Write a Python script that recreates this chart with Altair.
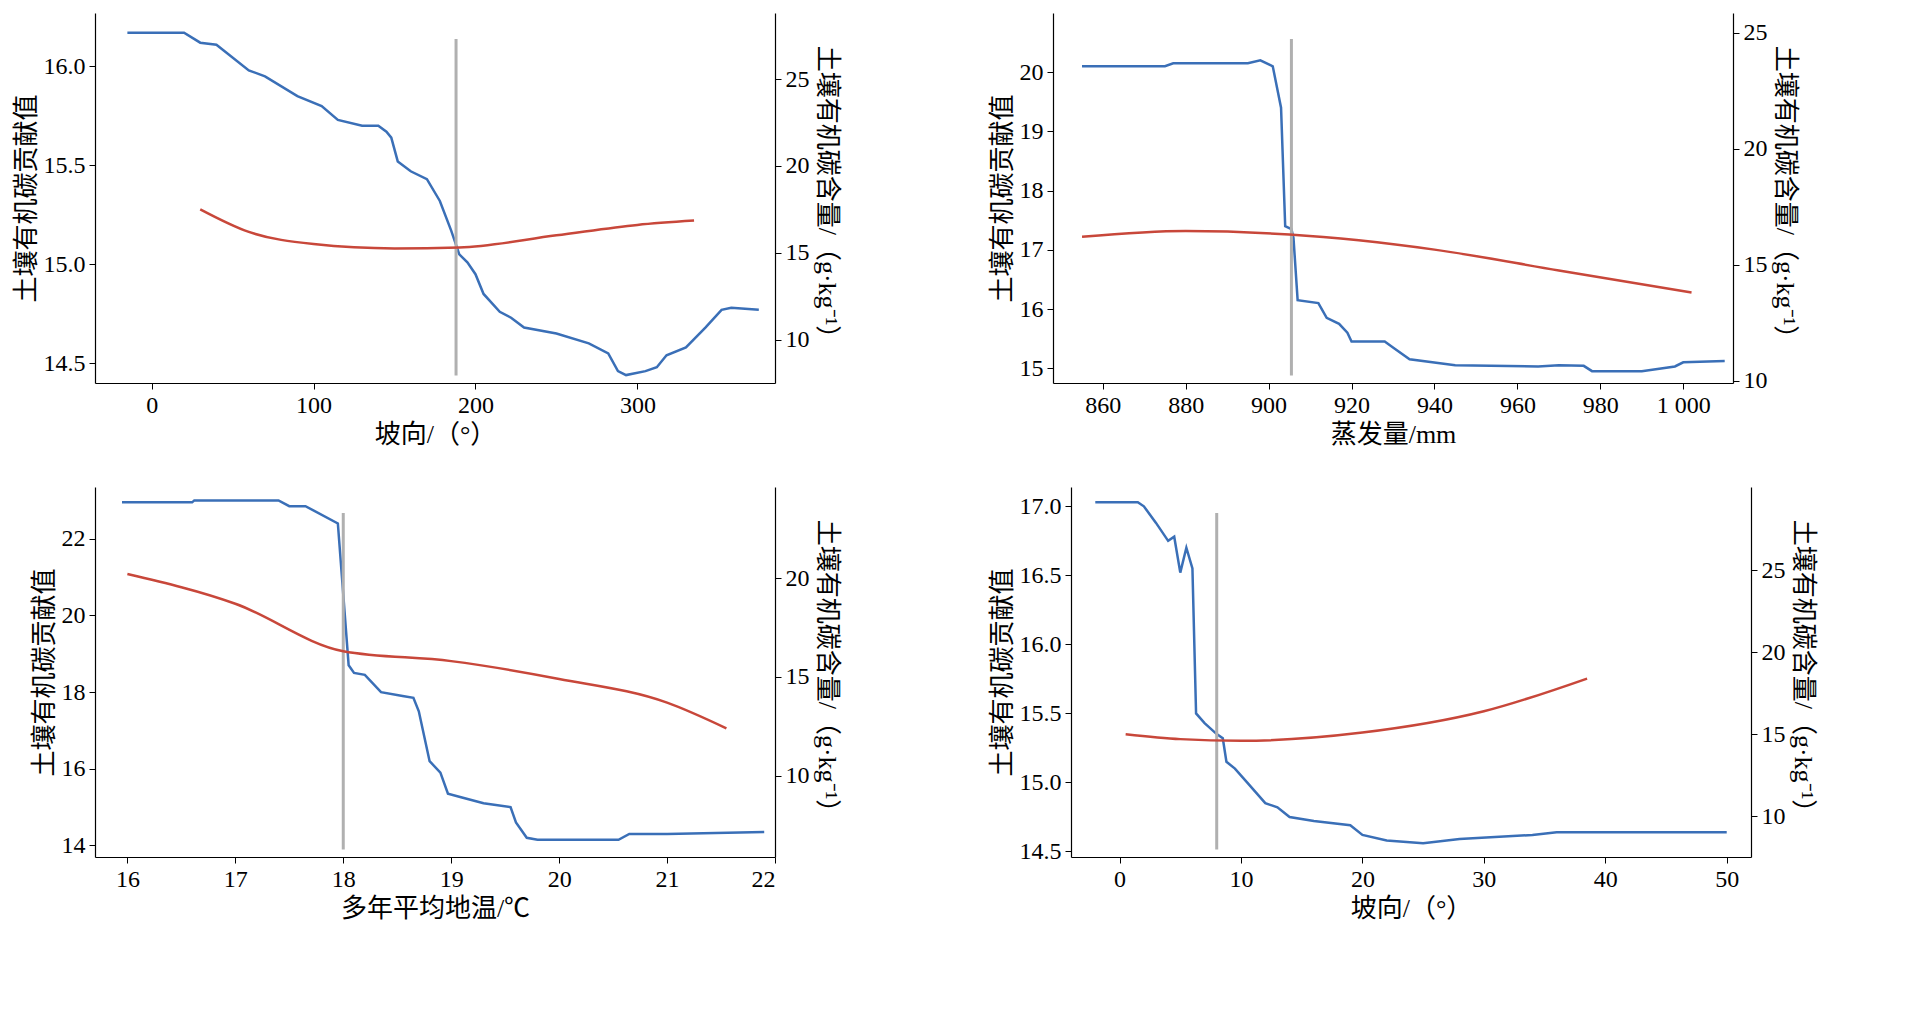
import altair as alt
import pandas as pd

FONT = "Liberation Serif, Noto Sans CJK SC"
BLUE = "#3a6fb7"
RED = "#c8473a"
GRAY = "#b0b0b0"
LEFT_TITLE = "土壤有机碳贡献值"
RIGHT_TITLE = "土壤有机碳含量/（g·kg⁻¹）"

# panel 1: aspect
p1_bx = [-15, 20, 30, 40, 60, 70, 90, 105, 115, 130, 140, 145, 148, 152, 160, 170, 178, 185, 190, 195, 200, 205, 215, 222, 230, 250, 270, 282, 288, 293, 305, 312, 318, 330, 342, 352, 358, 375]
p1_by = [16.17, 16.17, 16.12, 16.11, 15.98, 15.95, 15.85, 15.80, 15.73, 15.70, 15.70, 15.67, 15.64, 15.52, 15.47, 15.43, 15.32, 15.17, 15.05, 15.01, 14.95, 14.85, 14.76, 14.73, 14.68, 14.65, 14.60, 14.55, 14.46, 14.44, 14.46, 14.48, 14.54, 14.58, 14.68, 14.77, 14.78, 14.77]
p1_rx = [30, 60, 100, 150, 190, 250, 300, 335]
p1_ry = [17.5, 16.2, 15.5, 15.25, 15.3, 16.0, 16.6, 16.85]

# panel 2: evaporation
p2_bx = [855, 875, 877, 895, 898, 901, 903, 904, 905.5, 906, 907, 912, 914, 917, 919, 920, 928, 930, 934, 945, 965, 970, 976, 978, 990, 998, 1000, 1010]
p2_by = [20.1, 20.1, 20.15, 20.15, 20.2, 20.1, 19.4, 17.4, 17.35, 17.2, 16.15, 16.1, 15.85, 15.75, 15.6, 15.45, 15.45, 15.35, 15.15, 15.05, 15.03, 15.05, 15.04, 14.95, 14.95, 15.03, 15.1, 15.12]
p2_rx = [855, 880, 905, 940, 970, 1002]
p2_ry = [16.2, 16.45, 16.3, 15.65, 14.75, 13.8]

# panel 3: mean annual ground temperature
p3_bx = [15.95, 16.6, 16.62, 17.4, 17.5, 17.65, 17.95, 18.05, 18.1, 18.2, 18.35, 18.55, 18.65, 18.7, 18.8, 18.9, 18.97, 19.1, 19.3, 19.55, 19.6, 19.7, 19.8, 20.55, 20.65, 21.0, 21.9]
p3_by = [22.95, 22.95, 23.0, 23.0, 22.85, 22.85, 22.4, 18.7, 18.5, 18.45, 18.0, 17.9, 17.85, 17.5, 16.2, 15.9, 15.35, 15.25, 15.1, 15.0, 14.6, 14.2, 14.15, 14.15, 14.3, 14.3, 14.35]
p3_rx = [16, 17, 18, 19, 20, 21, 21.55]
p3_ry = [20.2, 18.7, 16.3, 15.8, 14.9, 13.7, 12.4]

# panel 4: slope
p4_bx = [-2, 1.5, 2, 3, 4, 4.5, 5, 5.5, 6, 6.3, 7, 8, 8.5, 8.8, 9.5, 10.5, 12, 13, 14, 16, 19, 20, 22, 25, 28, 34, 36, 50]
p4_by = [17.03, 17.03, 17.0, 16.88, 16.75, 16.78, 16.52, 16.7, 16.55, 15.5, 15.43, 15.35, 15.32, 15.15, 15.1, 15.0, 14.85, 14.82, 14.75, 14.72, 14.69, 14.62, 14.58, 14.56, 14.59, 14.62, 14.64, 14.64]
p4_rx = [0.5, 5, 10, 20, 30, 38.5]
p4_ry = [15.0, 14.7, 14.6, 15.1, 16.4, 18.4]

W, H = 680, 370


def panel(bx, by, rx, ry, cut, xdom, xticks, xtitle, ldom, lticks, lfmt, rdom, rticks, xfmt=None):
    xaxis = dict(values=xticks, title=xtitle, format="d")
    if xfmt:
        xaxis["labelExpr"] = xfmt
    xs = alt.Scale(domain=xdom, nice=False, zero=False)
    blue = alt.Chart(pd.DataFrame({"x": bx, "y": by})).mark_line(color=BLUE, strokeWidth=2.5).encode(
        x=alt.X("x:Q", scale=xs, axis=alt.Axis(**xaxis)),
        y=alt.Y("y:Q", scale=alt.Scale(domain=ldom, nice=False, zero=False),
                axis=alt.Axis(values=lticks, title=LEFT_TITLE, format=lfmt)),
    )
    lo = ldom[0] + (ldom[1] - ldom[0]) * 0.02
    hi = ldom[1] - (ldom[1] - ldom[0]) * 0.07
    rule = alt.Chart(pd.DataFrame({"x": [cut], "y": [lo], "y2": [hi]})).mark_rule(color=GRAY, strokeWidth=3).encode(
        x=alt.X("x:Q", scale=xs), y="y:Q", y2="y2:Q")
    red = alt.Chart(pd.DataFrame({"x": rx, "r": ry})).mark_line(color=RED, strokeWidth=2.5, interpolate="monotone").encode(
        x=alt.X("x:Q", scale=xs),
        y=alt.Y("r:Q", scale=alt.Scale(domain=rdom, nice=False, zero=False),
                axis=alt.Axis(values=rticks, title=RIGHT_TITLE, orient="right", titleAngle=90)),
    )
    return alt.layer(alt.layer(blue, rule), red).resolve_scale(y="independent").properties(width=W, height=H)


c1 = panel(p1_bx, p1_by, p1_rx, p1_ry, 188, [-35, 385], [0, 100, 200, 300], "坡向/（°）",
           [14.4, 16.27], [14.5, 15.0, 15.5, 16.0], ".1f", [7.5, 28.8], [10, 15, 20, 25])
c2 = panel(p2_bx, p2_by, p2_rx, p2_ry, 905.5, [848, 1012], [860, 880, 900, 920, 940, 960, 980, 1000], "蒸发量/mm",
           [14.75, 21.0], [15, 16, 17, 18, 19, 20], "d", [9.9, 25.85], [10, 15, 20, 25],
           xfmt="datum.value >= 1000 ? '1 000' : datum.label")
c3 = panel(p3_bx, p3_by, p3_rx, p3_ry, 18, [15.7, 22.0], [16, 17, 18, 19, 20, 21, 22], "多年平均地温/℃",
           [13.7, 23.35], [14, 16, 18, 20, 22], "d", [5.9, 24.6], [10, 15, 20, 25])
c4 = panel(p4_bx, p4_by, p4_rx, p4_ry, 8, [-4, 52], [0, 10, 20, 30, 40, 50], "坡向/（°）",
           [14.46, 17.14], [14.5, 15.0, 15.5, 16.0, 16.5, 17.0], ".1f", [7.5, 30.1], [10, 15, 20, 25])

chart = alt.vconcat(
    alt.hconcat(c1, c2, spacing=150),
    alt.hconcat(c3, c4, spacing=150),
    spacing=40,
).properties(background="white").configure_view(stroke=None).configure_axis(
    grid=False, domainColor="black", tickColor="black", labelColor="black", titleColor="black",
    labelFont=FONT, titleFont=FONT, labelFontSize=24, titleFontSize=26, titleFontWeight="normal",
    tickSize=6, labelPadding=4, domainWidth=1.2,
)

chart.save("out.html", embed_options={"renderer": "svg", "actions": False})
